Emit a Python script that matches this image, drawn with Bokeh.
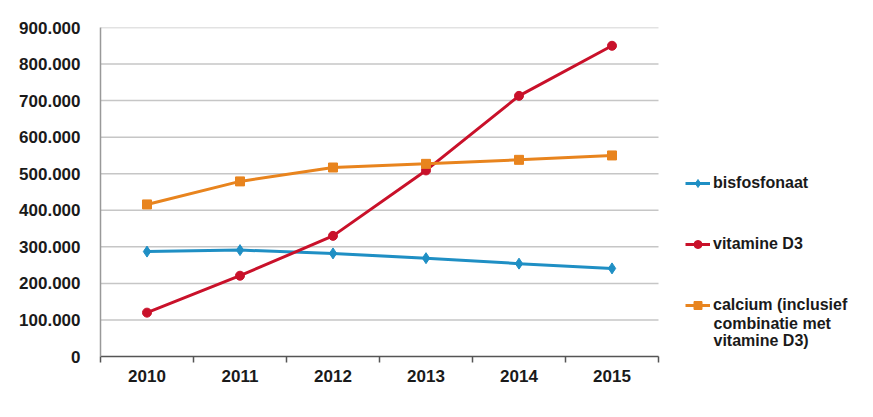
from bokeh.plotting import figure
from bokeh.models import FixedTicker, Legend, LegendItem, Label, Range1d
from bokeh.embed import file_html
from bokeh.resources import INLINE

years = ["2010", "2011", "2012", "2013", "2014", "2015"]
bisfosfonaat = [287000, 291000, 282000, 269000, 254000, 241000]
vitamine_d3 = [120000, 221000, 330000, 509000, 713000, 850000]
calcium = [416000, 479000, 517000, 527000, 538000, 550000]
y_ticks = [0, 100000, 200000, 300000, 400000, 500000, 600000, 700000, 800000, 900000]

series_names = ["bisfosfonaat", "vitamine D3", "calcium (inclusief"]
calcium_extra_lines = ["combinatie met", "vitamine D3)"]

FONT = "Liberation Sans"
BLUE = "#1f8fc4"
RED = "#c9112a"
ORANGE = "#e8841e"
TXT = "#1a1a1a"

n = len(years)
xs = [i + 0.5 for i in range(n)]

W, H = 857, 401
LEFT, TOP, BOTTOM = 100, 27, 45
DATA_W = 558
# frame spans to the right edge so that the legend is not clipped
x_end = n * (W - LEFT) / DATA_W

p = figure(width=W, height=H, output_backend="svg", toolbar_location=None,
           x_range=Range1d(0, x_end), y_range=Range1d(0, 900000),
           min_border_left=LEFT, min_border_right=0, min_border_top=TOP,
           min_border_bottom=BOTTOM)
p.outline_line_color = None
p.background_fill_color = "white"
p.border_fill_color = "white"

# grid drawn as segments limited to the data area
p.xgrid.grid_line_color = None
p.ygrid.grid_line_color = None
gl = y_ticks[1:]
p.segment(x0=[0] * len(gl), x1=[n] * len(gl), y0=gl, y1=gl,
          line_color="#c6c6c6", line_width=1.5)

# y axis
p.yaxis.ticker = FixedTicker(ticks=y_ticks)
p.yaxis.major_label_overrides = {v: f"{v:,}".replace(",", ".") for v in y_ticks}
p.yaxis.major_tick_line_color = None
p.yaxis.minor_tick_line_color = None
p.yaxis.axis_line_color = "#999999"
p.yaxis.axis_line_width = 1.5
p.yaxis.major_label_text_font = FONT
p.yaxis.major_label_text_font_style = "bold"
p.yaxis.major_label_text_font_size = "17px"
p.yaxis.major_label_text_color = TXT
p.yaxis.major_label_standoff = 14

# x axis
p.xaxis.bounds = (0, n)
p.xaxis.ticker = FixedTicker(ticks=xs, minor_ticks=list(range(n + 1)))
p.xaxis.major_label_overrides = {x: y for x, y in zip(xs, years)}
p.xaxis.major_tick_line_color = None
p.xaxis.minor_tick_line_color = "#555555"
p.xaxis.minor_tick_out = 6
p.xaxis.minor_tick_in = 0
p.xaxis.minor_tick_line_width = 1.5
p.xaxis.axis_line_color = "#555555"
p.xaxis.axis_line_width = 1.5
p.xaxis.major_label_text_font = FONT
p.xaxis.major_label_text_font_style = "bold"
p.xaxis.major_label_text_font_size = "17px"
p.xaxis.major_label_text_color = TXT
p.xaxis.major_label_standoff = 7

r_b = p.line(xs, bisfosfonaat, line_color=BLUE, line_width=3)
m_b = p.scatter(xs, bisfosfonaat, marker="diamond", size=11, color=BLUE)
r_v = p.line(xs, vitamine_d3, line_color=RED, line_width=3)
m_v = p.scatter(xs, vitamine_d3, marker="circle", size=9, color=RED)
r_c = p.line(xs, calcium, line_color=ORANGE, line_width=3)
m_c = p.scatter(xs, calcium, marker="square", size=9, color=ORANGE)

legend = Legend(items=[
    LegendItem(label=series_names[0], renderers=[r_b, m_b]),
    LegendItem(label=series_names[1], renderers=[r_v, m_v]),
    LegendItem(label=series_names[2], renderers=[r_c, m_c]),
], location=(585, 41), orientation="vertical", spacing=41, padding=0, margin=0,
    glyph_width=25, glyph_height=20, label_height=20, label_standoff=3,
    label_text_font=FONT, label_text_font_style="bold", label_text_font_size="16px",
    label_text_color=TXT, border_line_alpha=0, background_fill_alpha=0)
p.add_layout(legend)

for i, txt in enumerate(calcium_extra_lines):
    p.add_layout(Label(x=613, y=33.5 - 17.5 * i, x_units="screen", y_units="screen",
                       text=txt, text_font=FONT, text_font_style="bold",
                       text_font_size="16px", text_color=TXT,
                       text_baseline="middle"))

open("out.html", "w").write(file_html(p, INLINE))
